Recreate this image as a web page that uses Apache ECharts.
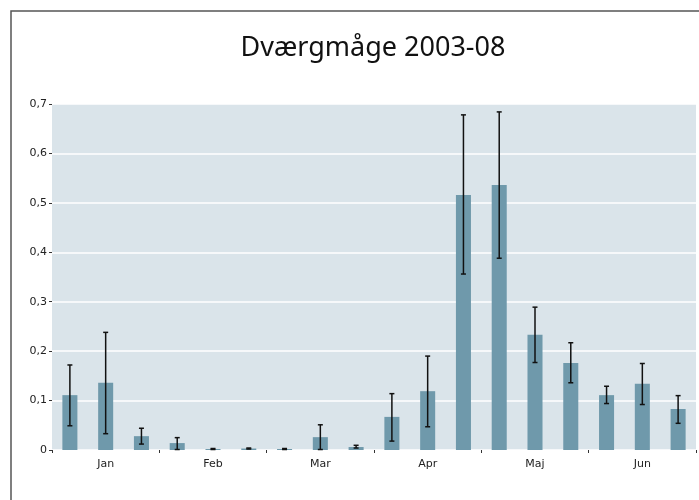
<!DOCTYPE html>
<html><head><meta charset="utf-8">
<script src="https://cdn.jsdelivr.net/npm/echarts@6/dist/echarts.min.js"></script>
<style>html,body{margin:0;padding:0;background:#fff}#c{width:699px;height:500px}</style>
</head><body><div id="c"></div>
<script>
const months = ['Jan','Feb','Mar','Apr','Maj','Jun'];
const periods = ['Jan1','Jan2','Jan3','Feb1','Feb2','Feb3','Mar1','Mar2','Mar3','Apr1','Apr2','Apr3','Maj1','Maj2','Maj3','Jun1','Jun2','Jun3'];
const values = [0.111,0.136,0.028,0.014,0.002,0.003,0.002,0.026,0.006,0.067,0.119,0.516,0.536,0.233,0.176,0.111,0.134,0.083];
const errLow = [0.049,0.033,0.012,0.001,0.001,0.002,0.001,0.001,0.004,0.018,0.047,0.356,0.388,0.177,0.136,0.094,0.092,0.054];
const errHigh = [0.172,0.238,0.044,0.025,0.003,0.004,0.003,0.051,0.0095,0.114,0.19,0.678,0.684,0.289,0.217,0.129,0.175,0.110];
const yTicks = [0,0.1,0.2,0.3,0.4,0.5,0.6,0.7];

const chart = echarts.init(document.getElementById('c'), null, {renderer:'canvas'});
const errData = periods.map((p,i)=>[i, errLow[i], errHigh[i]]);
chart.setOption({
  animation:false,
  backgroundColor:'#fff',
  title:{text:'Dværgmåge 2003-08', left:368, top:30, textAlign:'center',
    textStyle:{fontFamily:'Noto Sans', fontSize:27, fontWeight:'normal', color:'#111'}},
  graphic:[{type:'polyline', shape:{points:[[11,520],[11,11],[720,11]]}, style:{stroke:'#555', lineWidth:1.5, fill:null}, z:100}],
  grid:{left:52, right:3, top:104, bottom:50, show:true, backgroundColor:'#dae4ea', borderWidth:0},
  xAxis:[
    {type:'category', data:periods, show:false, boundaryGap:true},
    {type:'category', data:months, position:'bottom', boundaryGap:true,
      axisLine:{show:false}, axisTick:{show:true, length:3, alignWithLabel:false, lineStyle:{color:'#333'}},
      axisLabel:{fontFamily:'DejaVu Sans', fontSize:11, color:'#222', margin:9}, splitLine:{show:false}}
  ],
  yAxis:{type:'value', min:0, max:0.7, interval:0.1,
    axisLine:{show:false}, axisTick:{show:true, length:3, lineStyle:{color:'#333'}},
    axisLabel:{fontFamily:'DejaVu Sans', fontSize:11, color:'#222', margin:5,
      formatter:v=>{const t=yTicks.find(x=>Math.abs(x-v)<1e-9); return String(+((t!==undefined?t:v).toFixed(1))).replace('.',',');}},
    splitLine:{show:true, lineStyle:{color:'#fff', width:1.5}}},
  series:[
    {type:'bar', xAxisIndex:0, data:values, barWidth:'42%', itemStyle:{color:'#6f99ab'}},
    {type:'custom', xAxisIndex:0, data:errData, z:10,
      renderItem:(params, api)=>{
        const x=api.value(0);
        const lo=api.coord([x, api.value(1)]);
        const hi=api.coord([x, api.value(2)]);
        const hw=2.5;
        const st={stroke:'#111', lineWidth:1.5};
        return {type:'group', children:[
          {type:'line', shape:{x1:lo[0],y1:lo[1],x2:hi[0],y2:hi[1]}, style:st},
          {type:'line', shape:{x1:lo[0]-hw,y1:lo[1],x2:lo[0]+hw,y2:lo[1]}, style:st},
          {type:'line', shape:{x1:hi[0]-hw,y1:hi[1],x2:hi[0]+hw,y2:hi[1]}, style:st}
        ]};
      }}
  ]
});
</script></body></html>
